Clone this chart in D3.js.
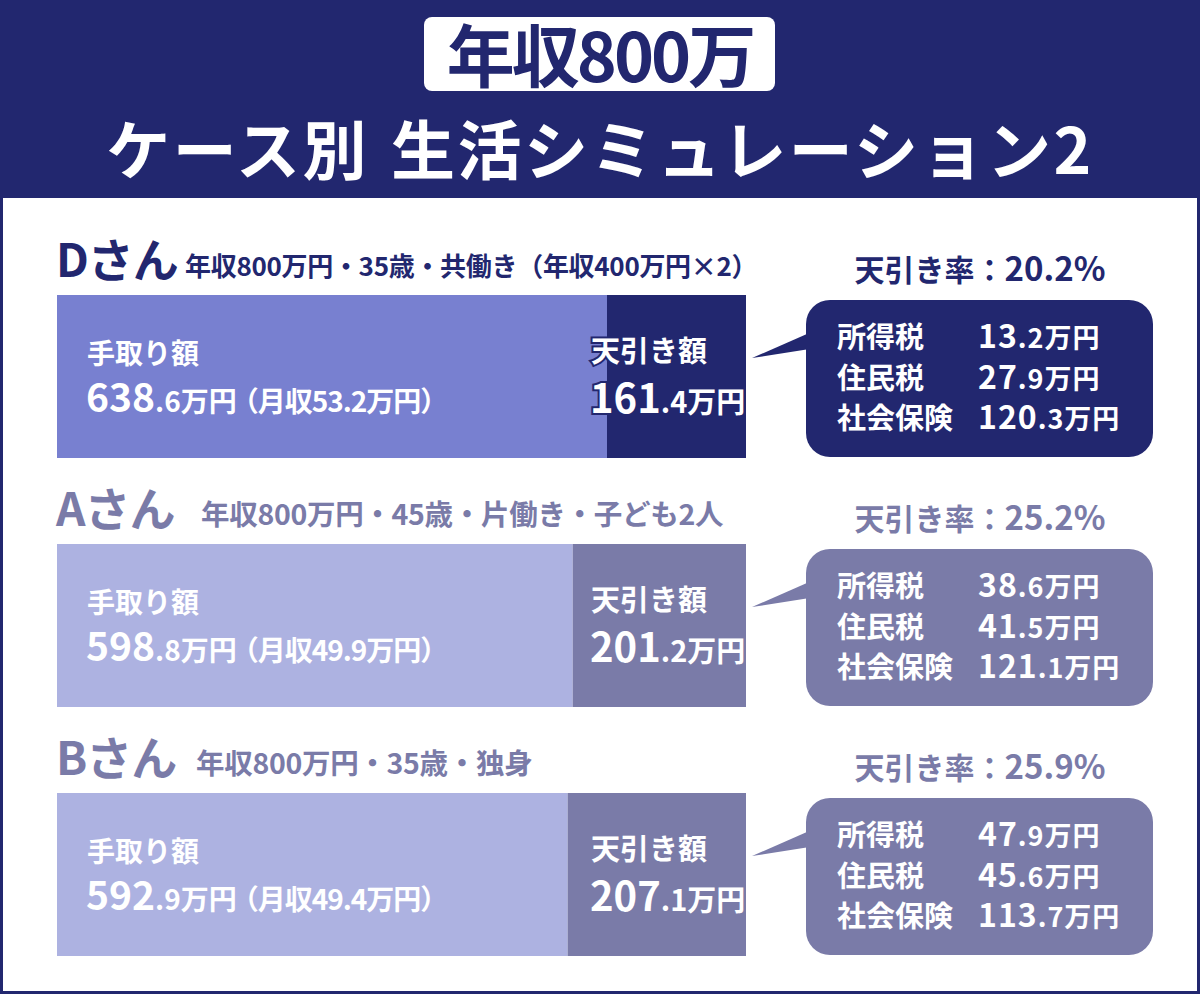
<!DOCTYPE html>
<html>
<head>
<meta charset="utf-8">
<script src="https://cdn.jsdelivr.net/npm/d3@7"></script>
<style>
  body { margin: 0; background: #fff; }
  text { font-family: "Noto Sans CJK JP", "Noto Sans", sans-serif; font-weight: 700; }
</style>
</head>
<body>
<div id="chart"></div>
<script>
// Data
const people = ["Dさん", "Aさん", "Bさん"];
const profiles = [
  "年収800万円・35歳・共働き（年収400万円×2）",
  "年収800万円・45歳・片働き・子ども2人",
  "年収800万円・35歳・独身"
];
const totalIncome = 800;
const takeHome = [638.6, 598.8, 592.9];
const monthly = [53.2, 49.9, 49.4];
const deducted = [161.4, 201.2, 207.1];
const rates = [20.2, 25.2, 25.9];
const taxNames = ["所得税", "住民税", "社会保険"];
const incomeTax = [13.2, 38.6, 47.9];
const residentTax = [27.9, 41.5, 45.6];
const socialIns = [120.3, 121.1, 113.7];

// Parameters
const svg_w = 1200;
const svg_h = 994;
const navy = "#22276f";
const themes = [
  {light: "#7880d0", dark: navy, head: navy, sub: 26, subX: 185},
  {light: "#adb2e1", dark: "#7a7ba8", head: "#7a7ba8", sub: 28.5, subX: 201},
  {light: "#adb2e1", dark: "#7a7ba8", head: "#7a7ba8", sub: 28.5, subX: 196}
];

const svg = d3.select("#chart")
  .append("svg")
    .attr("width", svg_w)
    .attr("height", svg_h);

// Header and frame
svg.append("rect")
    .attr("x", 0).attr("y", 0)
    .attr("width", svg_w).attr("height", svg_h)
    .attr("fill", navy);
svg.append("rect")
    .attr("x", 3).attr("y", 198)
    .attr("width", svg_w - 6).attr("height", svg_h - 198 - 3)
    .attr("fill", "#fff");

svg.append("rect")
    .attr("x", 424).attr("y", 17)
    .attr("width", 351).attr("height", 74)
    .attr("rx", 8)
    .attr("fill", "#fff");
svg.append("text")
    .attr("x", 600).attr("y", 82)
    .attr("text-anchor", "middle")
    .attr("fill", navy)
    .style("font-size", "68px")
    .style("letter-spacing", "-3px")
    .text("年収800万");
const title = svg.append("text")
    .attr("x", 600).attr("y", 174)
    .attr("text-anchor", "middle")
    .attr("fill", "#fff")
    .style("font-size", "64px")
    .style("letter-spacing", "2.5px");
title.append("tspan").text("ケース別");
title.append("tspan").attr("dx", 22).text("生活シミュレーション2");

// Scales
const xScale = d3.scaleLinear().domain([0, totalIncome]).range([57, 746]);
const rowScale = d3.scaleBand().domain(people).range([295, 295 + 3 * 249]);
const barH = 163;

// split "638.6" into big integer part and small decimal part
function addValue(sel, v, bigSize, smallSize, tail) {
  const parts = v.toFixed(1).split(".");
  sel.append("tspan").style("font-size", bigSize + "px").text(parts[0]);
  sel.append("tspan").style("font-size", smallSize + "px").text("." + parts[1] + "万円");
  if (tail) {
    sel.append("tspan").attr("dx", -6).style("font-size", smallSize + "px").style("letter-spacing", "-1px").text(tail);
  }
}

const rows = svg.selectAll("g.row")
  .data(people)
  .enter()
  .append("g")
    .attr("class", "row")
    .attr("transform", d => `translate(0, ${rowScale(d)})`);

rows.each(function(d, i) {
  const g = d3.select(this);
  const th = themes[i];

  // heading
  g.append("text")
      .attr("x", 56).attr("y", -18)
      .attr("fill", th.head)
      .style("font-size", "46px")
      .style("letter-spacing", "-1px")
      .text(d);
  g.append("text")
      .attr("x", th.subX).attr("y", -19)
      .attr("fill", th.head)
      .style("font-size", th.sub + "px")
      .style("letter-spacing", "-0.3px")
      .text(profiles[i]);

  // bars
  g.append("rect")
      .attr("x", xScale(0)).attr("y", 0)
      .attr("width", xScale(takeHome[i]) - xScale(0))
      .attr("height", barH)
      .attr("fill", th.light);
  g.append("rect")
      .attr("x", xScale(takeHome[i])).attr("y", 0)
      .attr("width", xScale(totalIncome) - xScale(takeHome[i]))
      .attr("height", barH)
      .attr("fill", th.dark);

  // take-home label
  g.append("text")
      .attr("x", 87).attr("y", 69)
      .attr("fill", "#fff")
      .style("font-size", "28px")
      .text("手取り額");
  const th1 = g.append("text")
      .attr("x", 86).attr("y", 117)
      .attr("fill", "#fff");
  addValue(th1, takeHome[i], 39, 28, "（月収" + monthly[i].toFixed(1) + "万円）");

  // deduction label
  g.append("text")
      .attr("x", 591).attr("y", 67)
      .attr("fill", "#fff")
      .attr("stroke", th.dark).attr("stroke-width", 4)
      .attr("paint-order", "stroke")
      .style("font-size", "29px")
      .text("天引き額");
  const dd = g.append("text")
      .attr("x", 590).attr("y", 118)
      .attr("fill", "#fff")
      .attr("stroke", th.dark).attr("stroke-width", 4)
      .attr("paint-order", "stroke");
  addValue(dd, deducted[i], 40, 29);

  // rate
  const rt = g.append("text")
      .attr("x", 980).attr("y", -14)
      .attr("text-anchor", "middle")
      .attr("fill", th.head)
      .style("font-size", "30px");
  rt.append("tspan").text("天引き率：");
  rt.append("tspan").style("font-size", "33px").text(rates[i].toFixed(1) + "%");

  // callout bubble
  const bx = 806, by = 5, bw = 347, bh = 157;
  g.append("path")
      .attr("d", `M${bx + 10},${by + 30} L${752},${by + 58} L${bx + 10},${by + 48} Z`)
      .attr("fill", th.dark);
  g.append("rect")
      .attr("x", bx).attr("y", by)
      .attr("width", bw).attr("height", bh)
      .attr("rx", 24)
      .attr("fill", th.dark);

  const vals = [incomeTax[i], residentTax[i], socialIns[i]];
  taxNames.forEach(function(name, k) {
    g.append("text")
        .attr("x", 837).attr("y", 53 + k * 40.5)
        .attr("fill", "#fff")
        .style("font-size", "29px")
        .text(name);
    const t = g.append("text")
        .attr("x", 978).attr("y", 53 + k * 40.5)
        .attr("fill", "#fff")
        .style("letter-spacing", "1px");
    addValue(t, vals[k], 32, 27);
  });
});
</script>
</body>
</html>
